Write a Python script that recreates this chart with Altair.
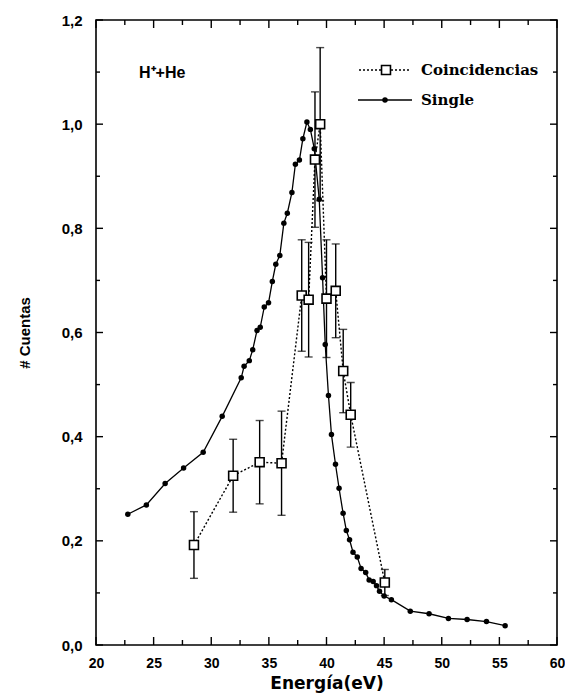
import altair as alt
import pandas as pd

# ---- data ----
single_x = [22.76, 24.37, 26.0, 27.6, 29.3, 30.95, 32.6, 32.85, 33.3, 33.6, 33.97, 34.25,
            34.6, 34.97, 35.3, 35.6, 35.95, 36.3, 36.6, 37.0, 37.3, 37.65, 37.95, 38.3,
            38.6, 38.94, 39.37, 39.66, 39.89, 40.17, 40.43, 40.78, 41.09, 41.44, 41.72,
            42.0, 42.3, 42.67, 43.0, 43.4, 43.7, 44.05, 44.34, 44.6, 45.0, 45.63, 47.27,
            48.9, 50.58, 52.2, 53.88, 55.5]
single_y = [0.251, 0.269, 0.31, 0.34, 0.37, 0.439, 0.513, 0.535, 0.546, 0.567, 0.604, 0.61,
            0.649, 0.657, 0.698, 0.731, 0.748, 0.81, 0.829, 0.869, 0.923, 0.931, 0.972, 1.004,
            0.99, 0.953, 0.856, 0.705, 0.577, 0.479, 0.404, 0.347, 0.301, 0.253, 0.22,
            0.202, 0.178, 0.169, 0.147, 0.139, 0.125, 0.122, 0.114, 0.103, 0.094, 0.087, 0.065,
            0.06, 0.051, 0.049, 0.045, 0.037]

coin_x = [28.5, 31.9, 34.2, 36.1, 37.85, 38.45, 39.0, 39.45, 40.0, 40.8, 41.45, 42.1, 45.06]
coin_y = [0.192, 0.325, 0.351, 0.349, 0.671, 0.663, 0.932, 1.0, 0.665, 0.68, 0.526, 0.442, 0.12]
coin_err = [0.064, 0.07, 0.08, 0.10, 0.107, 0.11, 0.13, 0.147, 0.113, 0.09, 0.08, 0.062, 0.025]

x_major = [20, 25, 30, 35, 40, 45, 50, 55, 60]
x_minor = [22.5, 27.5, 32.5, 37.5, 42.5, 47.5, 52.5, 57.5]
y_major = [0.0, 0.2, 0.4, 0.6, 0.8, 1.0, 1.2]
y_minor = [0.1, 0.3, 0.5, 0.7, 0.9, 1.1]

series_names = ["Coincidencias", "Single"]
annotation = "H⁺+He"
x_title = "Energía(eV)"
y_title = "# Cuentas"

W, H = 461, 625

single = pd.DataFrame({"E": single_x, "C": single_y})
lo = [y - e for y, e in zip(coin_y, coin_err)]
hi = [y + e for y, e in zip(coin_y, coin_err)]
coin = pd.DataFrame({"E": coin_x, "C": coin_y, "lo": lo, "hi": hi})
caps = pd.DataFrame({"E": coin_x + coin_x, "C": lo + hi})

xs = alt.Scale(domain=[20, 60], nice=False, zero=False)
ys = alt.Scale(domain=[0, 1.2], nice=False, zero=False)

x_axis = alt.Axis(values=x_major, format="d", ticks=False, domain=False, grid=False,
                  labelFlush=False,
                  labelFont="Liberation Sans", labelFontWeight="bold", labelFontSize=14,
                  labelPadding=11, labelColor="black",
                  titleFont="DejaVu Sans", titleFontWeight="bold", titleFontSize=17,
                  titlePadding=5, titleColor="black")
y_axis = alt.Axis(values=y_major, ticks=False, domain=False, grid=False,
                  labelFlush=False,
                  labelExpr="replace(format(datum.value, '.1f'), '.', ',')",
                  labelFont="Liberation Sans", labelFontWeight="bold", labelFontSize=15,
                  labelPadding=14, labelColor="black",
                  titleFont="Liberation Sans", titleFontWeight="bold", titleFontSize=15,
                  titlePadding=29, titleColor="black")


def X(field):
    return alt.X(field, type="quantitative", scale=xs, axis=x_axis, title=x_title)


def Y(field):
    return alt.Y(field, type="quantitative", scale=ys, axis=y_axis, title=y_title)


# error bars
err_rules = alt.Chart(coin).mark_rule(color="black", strokeWidth=1.4).encode(
    x=X("E"), y=Y("lo"), y2="hi:Q")
err_caps = alt.Chart(caps).mark_tick(color="black", orient="horizontal", size=8, thickness=1.4).encode(
    x=X("E"), y=Y("C"))

coin_line = alt.Chart(coin).mark_line(color="black", strokeWidth=1.4, strokeDash=[2, 2]).encode(
    x=X("E"), y=Y("C"))
single_line = alt.Chart(single).mark_line(color="black", strokeWidth=1.3).encode(
    x=X("E"), y=Y("C"))
single_pts = alt.Chart(single).mark_circle(color="black", size=30, opacity=1).encode(
    x=X("E"), y=Y("C"))
coin_pts = alt.Chart(coin).mark_point(shape="square", filled=True, fill="white", stroke="black",
                                      strokeWidth=1.6, size=80, opacity=1).encode(
    x=X("E"), y=Y("C"))


# inward frame ticks on all four sides
def xticks(vals, length):
    d = pd.DataFrame({"E": vals})
    b = alt.Chart(d).mark_rule(color="black", strokeWidth=1.4).encode(
        x=X("E"), y=alt.value(H), y2=alt.value(H - length))
    t = alt.Chart(d).mark_rule(color="black", strokeWidth=1.4).encode(
        x=X("E"), y=alt.value(0), y2=alt.value(length))
    return [b, t]


def yticks(vals, length):
    d = pd.DataFrame({"C": vals})
    l = alt.Chart(d).mark_rule(color="black", strokeWidth=1.4).encode(
        y=Y("C"), x=alt.value(0), x2=alt.value(length))
    r = alt.Chart(d).mark_rule(color="black", strokeWidth=1.4).encode(
        y=Y("C"), x=alt.value(W), x2=alt.value(W - length))
    return [l, r]


tick_layers = xticks(x_major, 8) + xticks(x_minor, 5) + yticks(y_major, 7) + yticks(y_minor, 4)

# manual legend
leg_df = pd.DataFrame({"name": series_names})
leg1_line = alt.Chart(leg_df.iloc[[0]]).mark_rule(color="black", strokeWidth=1.4, strokeDash=[2, 2]).encode(
    x=alt.value(263), x2=alt.value(315), y=alt.value(50))
leg1_pt = alt.Chart(leg_df.iloc[[0]]).mark_point(shape="square", filled=True, fill="white", stroke="black",
                                                 strokeWidth=1.6, size=80, opacity=1).encode(
    x=alt.value(290), y=alt.value(50))
leg1_txt = alt.Chart(leg_df.iloc[[0]]).mark_text(align="left", baseline="middle", font="DejaVu Serif",
                                                 fontWeight="bold", fontSize=15, color="black").encode(
    x=alt.value(325), y=alt.value(50), text="name:N")
leg2_line = alt.Chart(leg_df.iloc[[1]]).mark_rule(color="black", strokeWidth=1.3).encode(
    x=alt.value(262), x2=alt.value(316), y=alt.value(80))
leg2_pt = alt.Chart(leg_df.iloc[[1]]).mark_circle(color="black", size=30, opacity=1).encode(
    x=alt.value(289), y=alt.value(80))
leg2_txt = alt.Chart(leg_df.iloc[[1]]).mark_text(align="left", baseline="middle", font="DejaVu Serif",
                                                 fontWeight="bold", fontSize=15, color="black").encode(
    x=alt.value(325), y=alt.value(80), text="name:N")

ann = alt.Chart(pd.DataFrame({"t": [annotation]})).mark_text(
    align="left", baseline="middle", font="Liberation Sans", fontWeight="bold", fontSize=16, color="black"
).encode(x=alt.value(43), y=alt.value(53), text="t:N")

chart = alt.layer(
    err_rules, err_caps, coin_line, single_line, single_pts, coin_pts,
    *tick_layers,
    leg1_line, leg1_pt, leg1_txt, leg2_line, leg2_pt, leg2_txt, ann,
).properties(
    width=W, height=H,
    autosize=alt.AutoSizeParams(type="none"),
    padding={"left": 88, "top": 12, "right": 8, "bottom": 55},
    background="white",
).configure_view(stroke="black", strokeWidth=1.6)

chart.save("out.html", embed_options={"renderer": "svg", "actions": False})
